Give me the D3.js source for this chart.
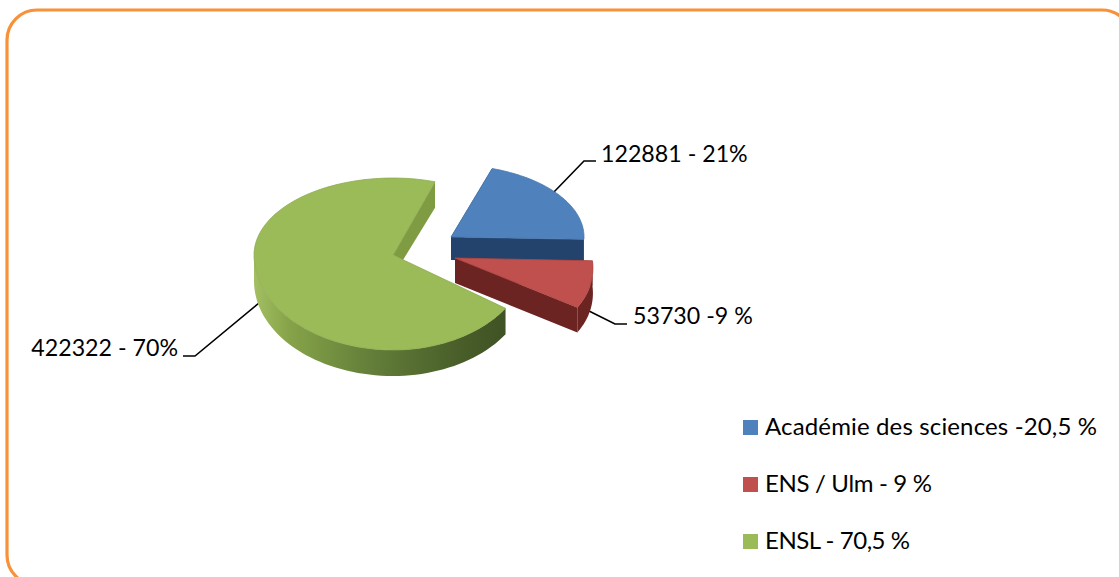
<!DOCTYPE html>
<html><head><meta charset="utf-8">
<style>html,body{margin:0;padding:0;background:#fff;overflow:hidden}svg{display:block}text{font-family:Lato,"Open Sans",sans-serif;fill:#000}</style>
<script src="https://cdnjs.cloudflare.com/ajax/libs/d3/7.8.5/d3.min.js"></script>
</head><body><svg id="c" width="1119" height="577"></svg>
<script>
const categories=["Académie des sciences -20,5 %","ENS / Ulm - 9 %","ENSL - 70,5 %"];
const values=[122881,53730,422322];
const sliceLabels=["122881 - 21%","53730 -9 %","422322 - 70%"];
const colors=["#4f81bd","#c0504d","#9bbb59"];
const wallColors=["#23426c","#6b2422","#5a7030"];
const cutColors=["#23426c","#6b2422","#7f9c42"];

const svg=d3.select("#c");
const deg=Math.PI/180;
const geom=[
 {cx:451,cy:237,rxR:133,rxL:133,ryT:72,ryB:72,depth:23,shear:0},
 {cx:455,cy:258,rxR:137,rxL:137,ryT:88,ryB:88,depth:25,shear:16},
 {cx:393,cy:255,rxR:136,rxL:139,ryT:77,ryB:95,depth:26,shear:0}
];
const leaders=[
 {pts:[[553,193],[584,161],[596,161]],tx:601,ty:162,anchor:"start"},
 {pts:[[585,309],[615,324],[627,324]],tx:633,ty:324,anchor:"start"},
 {pts:[[259,303],[195,356],[183,356]],tx:178,ty:356,anchor:"end"}
];
const legendTextWidths=[332,167,145];
const arcs=d3.pie().sort(null).startAngle(18*deg).endAngle(378*deg)(values);

const defs=svg.append("defs");
const sh=defs.append("linearGradient").attr("id","gw").attr("x1",0).attr("x2",1).attr("y1",0).attr("y2",0);
[[0,"#a3bf62"],[.14,"#86a349"],[.45,"#64803a"],[.8,"#4a5f2a"],[1,"#3f5224"]].forEach(s=>sh.append("stop").attr("offset",s[0]).attr("stop-color",s[1]));

// frame
svg.append("rect").attr("x",9).attr("y",12).attr("width",1125).attr("height",575).attr("rx",30)
 .attr("fill","none").attr("stroke","#d9d9d9").attr("stroke-width",2);
svg.append("rect").attr("x",7).attr("y",10).attr("width",1125).attr("height",575).attr("rx",30)
 .attr("fill","#fff").attr("stroke","#f7923a").attr("stroke-width",3.2);

const project=(g,t,d=0)=>{const s=Math.sin(t),c=Math.cos(t);
 return [g.cx+s*(s>0?g.rxR:g.rxL)+(c<0?-c*g.shear:0),g.cy-c*(c>0?g.ryT:g.ryB)+d];};
const line=d3.line();
const sweep=(a,b)=>d3.range(0,61).map(i=>a+(b-a)*i/60);

// leaders drawn behind the pie
leaders.forEach(l=>svg.append("path").attr("d",line(l.pts)).attr("fill","none").attr("stroke","#000").attr("stroke-width",1.6));

[2,0,1].forEach(i=>{
 const a=arcs[i],g=geom[i],G=svg.append("g");
 const a0=a.startAngle,a1=a.endAngle;
 const apex=[g.cx,g.cy];
 const ws=Math.max(a0,Math.PI/2), we=Math.min(a1,1.5*Math.PI);
 if(we>ws){
  const top=sweep(ws,we).map(t=>project(g,t));
  const bot=sweep(we,ws).map(t=>project(g,t,g.depth));
  G.append("path").attr("d",line(top.concat(bot))+"Z").attr("fill",i==2?"url(#gw)":wallColors[i]);
 }
 const cut=(t)=>{const p=project(g,t);
  return line([apex,p,[p[0],p[1]+g.depth],[apex[0],apex[1]+g.depth]])+"Z";};
 if(i==2){
  const p=project(g,a1);
  G.append("path").attr("d",line([apex,p,[p[0],p[1]+g.depth],[apex[0]+10,apex[1]+5]])+"Z").attr("fill",cutColors[i]);
 } else {
  G.append("path").attr("d",cut(a0)).attr("fill",wallColors[i]);
  G.append("path").attr("d",cut(a1)).attr("fill",wallColors[i]);
 }
 const pts=[apex].concat(sweep(a0,a1).map(t=>project(g,t)));
 G.append("path").attr("d",line(pts)+"Z").attr("fill",colors[i]).attr("stroke",d3.color(colors[i]).darker(.25)).attr("stroke-width",.8).attr("stroke-linejoin","round");
});

leaders.forEach((l,i)=>svg.append("text").attr("x",l.tx).attr("y",l.ty).attr("text-anchor",l.anchor)
 .attr("font-size",23.2).text(sliceLabels[i]));

// legend
const ly=d3.scalePoint().domain(categories).range([427.5,541.5]);
categories.forEach((c,i)=>{
 svg.append("rect").attr("x",743).attr("y",ly(c)-7.5).attr("width",15).attr("height",15).attr("fill",colors[i]);
 svg.append("text").attr("x",765).attr("y",ly(c)+7).attr("font-size",24).attr("textLength",legendTextWidths[i]).attr("lengthAdjust","spacing").text(c);
});
</script></body></html>
